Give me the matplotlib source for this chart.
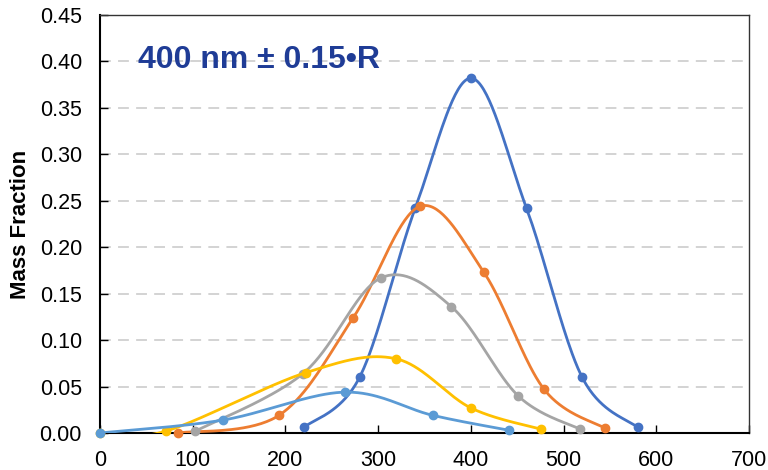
import numpy as np
import matplotlib
matplotlib.use("Agg")
import matplotlib.pyplot as plt

plt.rcParams['font.family'] = ['Liberation Sans', 'DejaVu Sans']

# ---- data ----
s1_x = [220, 280, 340, 400, 460, 520, 580]
s1_y = [0.006, 0.060, 0.242, 0.382, 0.242, 0.060, 0.006]

s2_x = [84, 193, 273, 345, 414, 479, 545]
s2_y = [0.000, 0.019, 0.124, 0.244, 0.173, 0.047, 0.005]

s3_x = [103, 219, 303, 379, 451, 518]
s3_y = [0.002, 0.064, 0.167, 0.136, 0.040, 0.004]

s4_x = [0, 71, 222, 319, 400, 476]
s4_y = [0.000, 0.002, 0.065, 0.080, 0.027, 0.004]

s5_x = [0, 133, 264, 359, 441]
s5_y = [0.000, 0.014, 0.044, 0.019, 0.003]

series = [
    (s1_x, s1_y, '#4472C4'),
    (s2_x, s2_y, '#ED7D31'),
    (s3_x, s3_y, '#A5A5A5'),
    (s4_x, s4_y, '#FFC000'),
    (s5_x, s5_y, '#5B9BD5'),
]

x_ticks = [0, 100, 200, 300, 400, 500, 600, 700]
y_ticks = [0.00, 0.05, 0.10, 0.15, 0.20, 0.25, 0.30, 0.35, 0.40, 0.45]
title_text = "400 nm ± 0.15•R"
ylabel_text = "Mass Fraction"


def smooth(xs, ys, n=40):
    """Excel-like smoothed line: cubic Bezier segments with Catmull-Rom control points."""
    P = np.column_stack([xs, ys]).astype(float)
    m = len(P)
    out = [P[0]]
    t = np.linspace(0, 1, n)[1:, None]
    for i in range(m - 1):
        p0 = P[i - 1] if i > 0 else P[i]
        p1 = P[i]
        p2 = P[i + 1]
        p3 = P[i + 2] if i + 2 < m else P[i + 1]
        c1 = p1 + (p2 - p0) / 6.0
        c2 = p2 - (p3 - p1) / 6.0
        seg = ((1 - t) ** 3) * p1 + 3 * ((1 - t) ** 2) * t * c1 + 3 * (1 - t) * t ** 2 * c2 + t ** 3 * p2
        out.extend(seg)
    out = np.array(out)
    return out[:, 0], out[:, 1]


fig = plt.figure(figsize=(7.68, 4.70), dpi=100)
ax = fig.add_axes([0.1302, 0.0787, 0.8451, 0.8893])

for k, (xs, ys, c) in enumerate(series):
    cx, cy = smooth(xs, ys)
    ax.plot(cx, cy, color=c, lw=2.0, zorder=3 + k, solid_capstyle='round')
    ax.plot(xs, ys, 'o', color=c, ms=6, zorder=3 + k, clip_on=False)

ax.set_xlim(0, 700)
ax.set_ylim(0, 0.45)
ax.set_xticks(x_ticks)
ax.set_yticks(y_ticks)
ax.set_xticklabels([str(v) for v in x_ticks])
ax.set_yticklabels([f"{v:.2f}" for v in y_ticks])
ax.tick_params(direction='in', length=6, width=1.0, labelsize=15.5, colors='black')
ax.tick_params(axis='y', pad=13)
ax.tick_params(axis='x', pad=12)

ax.yaxis.grid(True, color='#D0D0D0', lw=1.3, linestyle=(0, (6, 4)))
ax.set_axisbelow(True)

for side in ['left', 'bottom']:
    ax.spines[side].set_linewidth(1.5)
    ax.spines[side].set_color('black')
for side in ['top', 'right']:
    ax.spines[side].set_linewidth(1.0)
    ax.spines[side].set_color('#333333')

ax.set_ylabel(ylabel_text, fontsize=16, fontweight='bold', labelpad=6)

ax.text(0.058, 0.893, title_text, transform=ax.transAxes, fontsize=23,
        fontweight='bold', color='#1F3C96', ha='left', va='center')

fig.savefig('out.png', dpi=100)
